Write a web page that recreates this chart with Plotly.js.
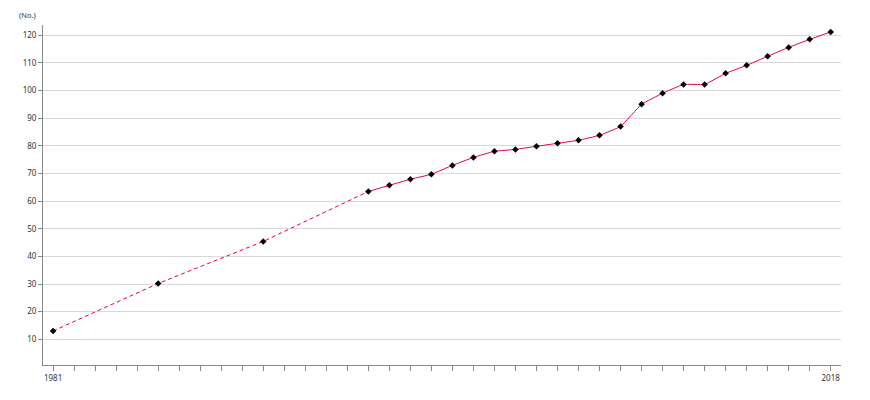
<!DOCTYPE html>
<html><head><meta charset="utf-8">
<script src="https://cdn.plot.ly/plotly-3.0.1.min.js"></script>
<style>html,body{margin:0;padding:0;background:#fff;}#chart{width:870px;height:400px;}</style>
</head><body><div id="chart"></div>
<script>
const yearsDashed = [1981, 1986, 1991, 1996];
const valuesDashed = [13, 30.2, 45.4, 63.5];
const yearsSolid = [1996,1997,1998,1999,2000,2001,2002,2003,2004,2005,2006,2007,2008,2009,2010,2011,2012,2013,2014,2015,2016,2017,2018];
const valuesSolid = [63.5,65.7,67.9,69.7,72.9,75.8,78,78.7,79.8,80.9,82,83.8,87,95,99,102.2,102.2,106.2,109.1,112.4,115.6,118.5,121.2];
const yTicks = [10,20,30,40,50,60,70,80,90,100,110,120];
const allYears = [];
for (let y = 1981; y <= 2018; y++) allYears.push(y);
const xLabels = allYears.map(y => (y === 1981 || y === 2018) ? String(y) : '');

const lineColor = '#e8003c';
const traces = [
  {x: yearsDashed, y: valuesDashed, mode: 'lines', line: {color: lineColor, width: 1, dash: '4px,3px'}, hoverinfo: 'skip', showlegend: false},
  {x: yearsSolid, y: valuesSolid, mode: 'lines', line: {color: lineColor, width: 1, shape: 'spline', smoothing: 0.3}, showlegend: false},
  {x: yearsDashed.concat(yearsSolid.slice(1)), y: valuesDashed.concat(valuesSolid.slice(1)), mode: 'markers',
   marker: {symbol: 'diamond', size: 5, color: '#000'}, showlegend: false}
];
const layout = {
  width: 870, height: 400,
  margin: {l: 43, r: 29, t: 25, b: 35},
  paper_bgcolor: '#fff', plot_bgcolor: '#fff',
  font: {family: 'Noto Sans, DejaVu Sans, sans-serif', size: 8, color: '#333'},
  xaxis: {range: [1980.52, 2018.49], tickmode: 'array', tickvals: allYears, ticktext: xLabels,
    ticks: 'outside', ticklen: 5, tickcolor: '#888', showline: true, linecolor: '#888', linewidth: 1,
    showgrid: false, zeroline: false, tickfont: {size: 8, color: '#333'}},
  yaxis: {range: [0.7, 123.7], tickmode: 'array', tickvals: yTicks,
    ticks: 'outside', ticklen: 4, tickcolor: '#888', showline: true, linecolor: '#888', linewidth: 1,
    showgrid: true, gridcolor: '#d9d9d9', gridwidth: 1, zeroline: false, tickfont: {size: 8, color: '#333'}},
  annotations: [{text: '(No.)', xref: 'paper', yref: 'paper', x: 0, y: 1, xanchor: 'right', yanchor: 'bottom',
    xshift: -5, yshift: 3, showarrow: false, font: {size: 7.5, color: '#333'}}]
};
Plotly.newPlot('chart', traces, layout, {displayModeBar: false, staticPlot: true});
</script></body></html>
